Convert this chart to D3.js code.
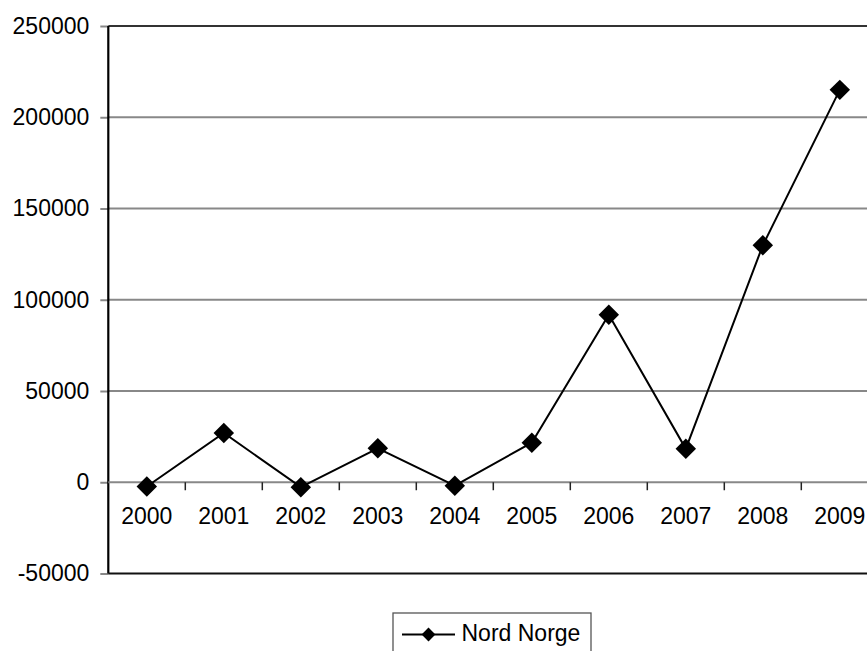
<!DOCTYPE html>
<html><head><meta charset="utf-8">
<script src="https://cdn.jsdelivr.net/npm/d3@7"></script>
<style>body{margin:0;background:#fff}svg{display:block}</style>
</head><body>
<script>
const years = ["2000","2001","2002","2003","2004","2005","2006","2007","2008","2009"];
const nordNorge = [-2300, 27000, -2700, 18600, -1900, 21700, 91800, 18300, 129800, 215000];
const yTicks = [-50000, 0, 50000, 100000, 150000, 200000, 250000];
const seriesName = "Nord Norge";

const W = 867, H = 651;
const mLeft = 108.3, mRight = 878.3, mTop = 26, mBottom = 573.5;
const svg = d3.select("body").append("svg").attr("width", W).attr("height", H);
const font = "Liberation Sans, Arial, sans-serif";

const x = d3.scaleBand().domain(years).range([mLeft, mRight]);
const y = d3.scaleLinear().domain([-50000, 250000]).range([mBottom, mTop]);

// gridlines
svg.append("g").selectAll("line").data(yTicks.filter(d => d !== -50000 && d !== 0))
  .join("line").attr("x1", mLeft).attr("x2", mRight)
  .attr("y1", d => y(d)).attr("y2", d => y(d))
  .attr("stroke", d => d === 250000 ? "#333" : "#888").attr("stroke-width", 2);

// y axis
const yAxis = d3.axisLeft(y).tickValues(yTicks).tickSize(8).tickPadding(11).tickFormat(d => String(d));
const gy = svg.append("g").attr("transform", `translate(${mLeft},0)`).call(yAxis);
gy.select(".domain").remove();
gy.selectAll(".tick line").attr("stroke", "#888").attr("stroke-width", 2);
gy.selectAll(".tick text").attr("font-family", font).attr("font-size", 23).attr("fill", "#000");
svg.append("line").attr("x1", mLeft).attr("x2", mLeft).attr("y1", mTop).attr("y2", mBottom)
  .attr("stroke", "#000").attr("stroke-width", 2.2);

// bottom border
svg.append("line").attr("x1", mLeft).attr("x2", mRight).attr("y1", mBottom).attr("y2", mBottom)
  .attr("stroke", "#111").attr("stroke-width", 2);

// zero category axis
svg.append("line").attr("x1", mLeft).attr("x2", mRight).attr("y1", y(0)).attr("y2", y(0))
  .attr("stroke", "#888").attr("stroke-width", 2);
const xAxis = d3.axisBottom(x).tickSize(0).tickPadding(0);
const gx = svg.append("g").attr("transform", `translate(0,${y(0)})`).call(xAxis);
gx.select(".domain").remove();
gx.selectAll(".tick line").remove();
gx.selectAll(".tick text").attr("font-family", font).attr("font-size", 23).attr("fill", "#000")
  .attr("dy", null).attr("y", 42);
// category boundary ticks
svg.append("g").selectAll("line").data(years.slice(1))
  .join("line").attr("x1", d => x(d)).attr("x2", d => x(d))
  .attr("y1", y(0)).attr("y2", y(0) + 8).attr("stroke", "#222").attr("stroke-width", 1.5);

// line
const cx = d => x(d) + x.bandwidth() / 2;
const data = years.map((yr, i) => ({yr, v: nordNorge[i]}));
svg.append("path").datum(data)
  .attr("d", d3.line().x(d => cx(d.yr)).y(d => y(d.v)))
  .attr("fill", "none").attr("stroke", "#000").attr("stroke-width", 2);
const diamond = d3.symbol().type(d3.symbolSquare).size(210);
svg.append("g").selectAll("path").data(data).join("path")
  .attr("d", diamond())
  .attr("transform", d => `translate(${cx(d.yr)},${y(d.v)}) rotate(45)`)
  .attr("fill", "#000");

// legend
const lg = svg.append("g");
lg.append("rect").attr("x", 393).attr("y", 613).attr("width", 198).attr("height", 50)
  .attr("fill", "#fff").attr("stroke", "#555").attr("stroke-width", 1.3);
lg.append("line").attr("x1", 402).attr("x2", 455).attr("y1", 634.5).attr("y2", 634.5)
  .attr("stroke", "#000").attr("stroke-width", 2);
lg.append("path").attr("d", d3.symbol().type(d3.symbolSquare).size(95)())
  .attr("transform", "translate(428.5,634.5) rotate(45)").attr("fill", "#000");
lg.append("text").attr("x", 461.5).attr("y", 641).text(seriesName)
  .attr("font-family", font).attr("font-size", 23).attr("fill", "#000");
</script>
</body></html>
